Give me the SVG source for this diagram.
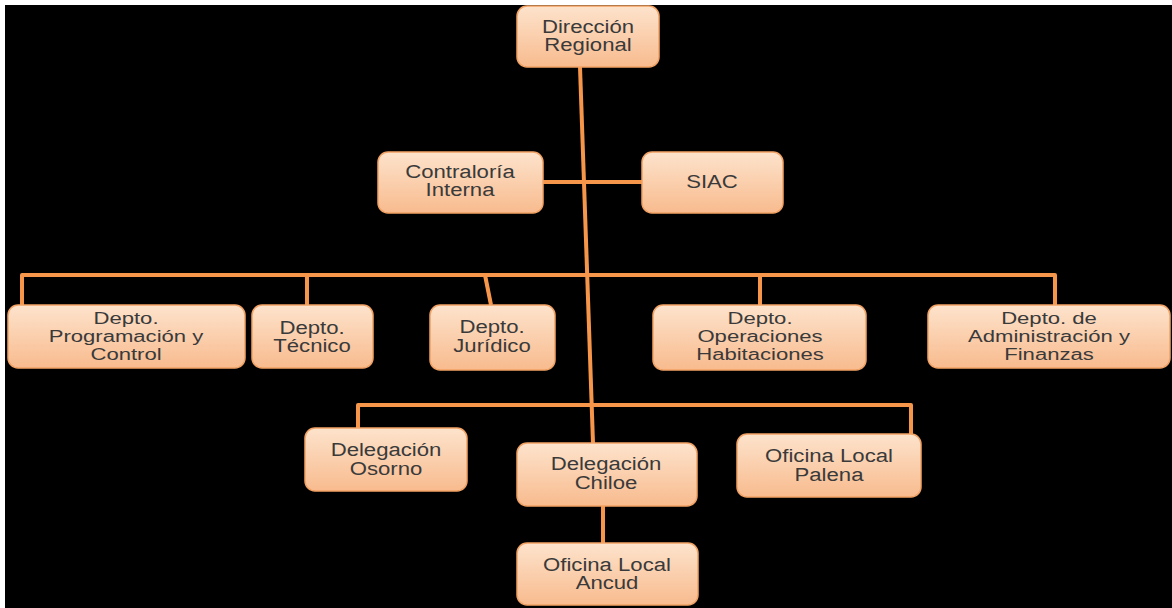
<svg xmlns="http://www.w3.org/2000/svg" width="1172" height="608" viewBox="0 0 1172 608">
  <defs>
    <linearGradient id="boxFill" x1="0" y1="0" x2="0" y2="1">
      <stop offset="0" stop-color="#fde3cc"/>
      <stop offset="1" stop-color="#f8bb8e"/>
    </linearGradient>
    <style>
      .box { fill: url(#boxFill); stroke: #f2a264; stroke-width: 1.5; }
      .lbl { font-family: "Liberation Sans", Arial, sans-serif; font-size: 18px; fill: #3a3a3a; text-anchor: middle; }
      .lbl3 { font-family: "Liberation Sans", Arial, sans-serif; font-size: 16px; fill: #3a3a3a; text-anchor: middle; }
      .wire { fill: none; stroke: #f5964a; stroke-width: 4; stroke-linejoin: round; stroke-linecap: butt; }
    </style>
  </defs>

  <!-- page background -->
  <rect x="0" y="0" width="1172" height="608" fill="#ffffff"/>
  <rect x="5" y="5" width="1167" height="603" fill="#000000"/>

  <!-- connectors -->
  <g id="connectors">
    <!-- main trunk -->
    <path class="wire" d="M580 67 L593 443"/>
    <!-- staff units -->
    <path class="wire" d="M543 182 H642"/>
    <!-- department bus -->
    <path class="wire" d="M22 305 V275 H1055 V305"/>
    <path class="wire" d="M307 275 V305"/>
    <path class="wire" d="M485 275 L491 305"/>
    <path class="wire" d="M760 275 V305"/>
    <!-- delegation bus -->
    <path class="wire" d="M358 428 V405 H911 V434"/>
    <!-- Chiloe to Ancud -->
    <path class="wire" d="M603 506 V543"/>
  </g>

  <g id="direccion-regional">
    <rect class="box" x="517" y="6" width="142" height="61" rx="10"/>
    <text class="lbl" transform="translate(588 33) scale(1.23 1)">Dirección</text>
    <text class="lbl" transform="translate(588 51) scale(1.23 1)">Regional</text>
  </g>

  <g id="contraloria-interna">
    <rect class="box" x="378" y="152" width="165" height="61" rx="10"/>
    <text class="lbl" transform="translate(460 178) scale(1.23 1)">Contraloría</text>
    <text class="lbl" transform="translate(460 196) scale(1.23 1)">Interna</text>
  </g>

  <g id="siac">
    <rect class="box" x="642" y="152" width="141" height="61" rx="10"/>
    <text class="lbl" transform="translate(712 188) scale(1.23 1)">SIAC</text>
  </g>

  <g id="depto-programacion">
    <rect class="box" x="8" y="305" width="237" height="63" rx="10"/>
    <text class="lbl3" transform="translate(126 324) scale(1.38 1)">Depto.</text>
    <text class="lbl3" transform="translate(126 342) scale(1.38 1)">Programación y</text>
    <text class="lbl3" transform="translate(126 360) scale(1.38 1)">Control</text>
  </g>

  <g id="depto-tecnico">
    <rect class="box" x="252" y="305" width="121" height="63" rx="10"/>
    <text class="lbl" transform="translate(312 334) scale(1.23 1)">Depto.</text>
    <text class="lbl" transform="translate(312 352) scale(1.23 1)">Técnico</text>
  </g>

  <g id="depto-juridico">
    <rect class="box" x="430" y="305" width="125" height="65" rx="10"/>
    <text class="lbl" transform="translate(492 333) scale(1.23 1)">Depto.</text>
    <text class="lbl" transform="translate(492 352) scale(1.23 1)">Jurídico</text>
  </g>

  <g id="depto-operaciones">
    <rect class="box" x="653" y="305" width="213" height="65" rx="10"/>
    <text class="lbl3" transform="translate(760 324) scale(1.38 1)">Depto.</text>
    <text class="lbl3" transform="translate(760 342) scale(1.38 1)">Operaciones</text>
    <text class="lbl3" transform="translate(760 360) scale(1.38 1)">Habitaciones</text>
  </g>

  <g id="depto-administracion">
    <rect class="box" x="928" y="305" width="242" height="63" rx="10"/>
    <text class="lbl3" transform="translate(1049 324) scale(1.38 1)">Depto. de</text>
    <text class="lbl3" transform="translate(1049 342) scale(1.38 1)">Administración y</text>
    <text class="lbl3" transform="translate(1049 360) scale(1.38 1)">Finanzas</text>
  </g>

  <g id="delegacion-osorno">
    <rect class="box" x="305" y="428" width="162" height="63" rx="10"/>
    <text class="lbl" transform="translate(386 456) scale(1.23 1)">Delegación</text>
    <text class="lbl" transform="translate(386 475) scale(1.23 1)">Osorno</text>
  </g>

  <g id="delegacion-chiloe">
    <rect class="box" x="517" y="443" width="180" height="63" rx="10"/>
    <text class="lbl" transform="translate(606 470) scale(1.23 1)">Delegación</text>
    <text class="lbl" transform="translate(606 489) scale(1.23 1)">Chiloe</text>
  </g>

  <g id="oficina-palena">
    <rect class="box" x="737" y="434" width="184" height="63" rx="10"/>
    <text class="lbl" transform="translate(829 462) scale(1.23 1)">Oficina Local</text>
    <text class="lbl" transform="translate(829 481) scale(1.23 1)">Palena</text>
  </g>

  <g id="oficina-ancud">
    <rect class="box" x="517" y="543" width="181" height="62" rx="10"/>
    <text class="lbl" transform="translate(607 571) scale(1.23 1)">Oficina Local</text>
    <text class="lbl" transform="translate(607 589) scale(1.23 1)">Ancud</text>
  </g>
</svg>
